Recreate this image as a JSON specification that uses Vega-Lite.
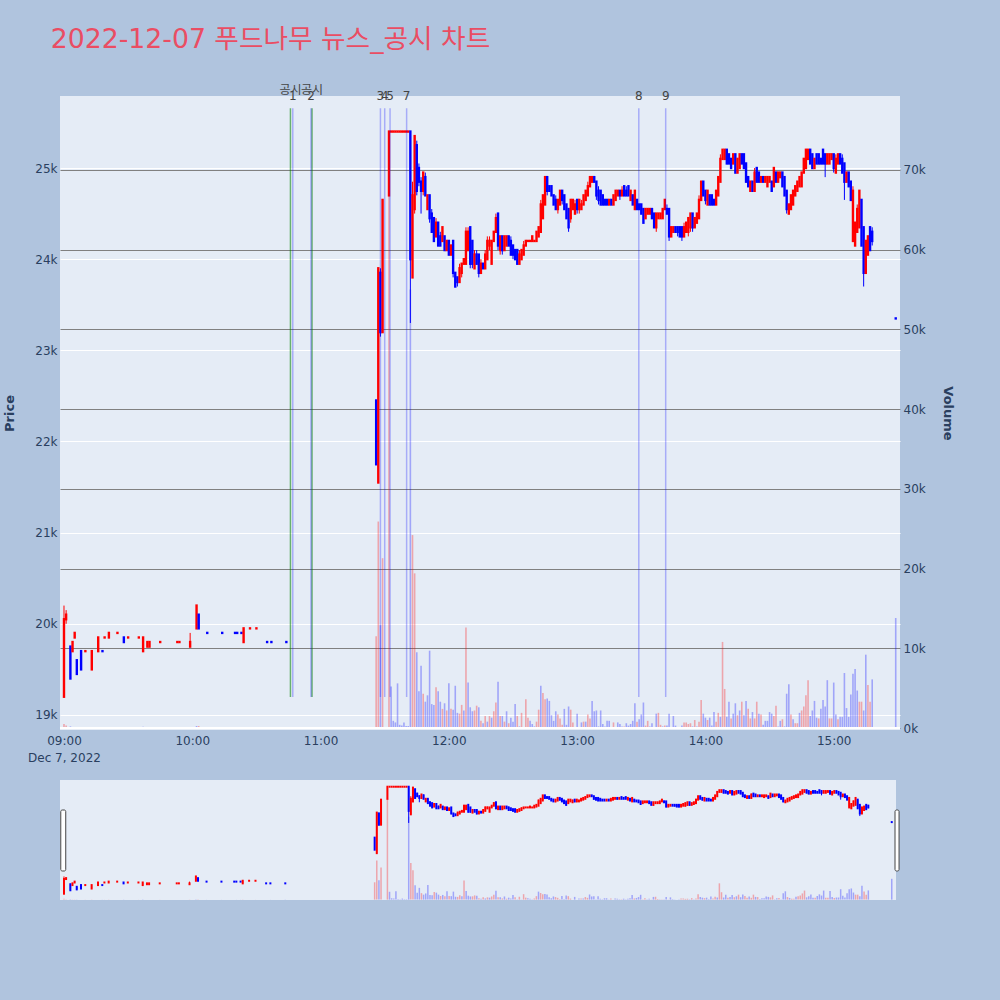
{
"$schema": "https://vega.github.io/schema/vega-lite/v6.json",
"background": "#B0C4DE",
"padding": {"left": 3, "top": 27, "right": 46, "bottom": 100},
"title": {"text": "2022-12-07 푸드나무 뉴스_공시 차트", "anchor": "start", "frame": "bounds", "dx": 47, "offset": 30, "font": "DejaVu Sans, Noto Sans CJK KR", "fontSize": 26.7, "fontWeight": "normal", "color": "#EA4D63"},
"config": {
  "view": {"fill": "#E5ECF6", "stroke": null},
  "font": "DejaVu Sans",
  "axis": {"labelFont": "DejaVu Sans", "labelFontSize": 12, "labelColor": "#2a3f5f", "titleFont": "DejaVu Sans", "titleColor": "#2a3f5f", "domain": false, "ticks": false}
},
"datasets": {
"k": [
{"t":"2022-12-07T09:00","o":19200,"h":20200,"l":19200,"c":20050,"v":500,"d":1,"w":1},
{"t":"2022-12-07T09:01","o":20050,"h":20150,"l":20000,"c":20100,"v":300,"d":1,"w":1},
{"t":"2022-12-07T09:03","o":19750,"h":19750,"l":19400,"c":19400,"v":200,"d":0,"w":0},
{"t":"2022-12-07T09:04","o":19700,"h":19800,"l":19700,"c":19800,"v":100,"d":1,"w":1},
{"t":"2022-12-07T09:05","o":19850,"h":19900,"l":19850,"c":19900,"v":100,"d":1,"w":1},
{"t":"2022-12-07T09:06","o":19600,"h":19600,"l":19450,"c":19450,"v":100,"d":0,"w":0},
{"t":"2022-12-07T09:08","o":19700,"h":19700,"l":19500,"c":19500,"v":100,"d":0,"w":0},
{"t":"2022-12-07T09:10","o":19700,"h":19700,"l":19700,"c":19700,"v":50,"d":1,"w":1},
{"t":"2022-12-07T09:13","o":19500,"h":19700,"l":19500,"c":19700,"v":100,"d":1,"w":1},
{"t":"2022-12-07T09:16","o":19700,"h":19850,"l":19700,"c":19850,"v":100,"d":1,"w":1},
{"t":"2022-12-07T09:18","o":19700,"h":19700,"l":19700,"c":19700,"v":50,"d":0,"w":0},
{"t":"2022-12-07T09:19","o":19850,"h":19850,"l":19850,"c":19850,"v":50,"d":1,"w":1},
{"t":"2022-12-07T09:21","o":19850,"h":19900,"l":19850,"c":19900,"v":100,"d":1,"w":1},
{"t":"2022-12-07T09:25","o":19900,"h":19900,"l":19900,"c":19900,"v":50,"d":1,"w":1},
{"t":"2022-12-07T09:28","o":19850,"h":19850,"l":19800,"c":19800,"v":100,"d":0,"w":0},
{"t":"2022-12-07T09:30","o":19850,"h":19850,"l":19850,"c":19850,"v":50,"d":1,"w":1},
{"t":"2022-12-07T09:35","o":19850,"h":19850,"l":19850,"c":19850,"v":50,"d":1,"w":1},
{"t":"2022-12-07T09:37","o":19700,"h":19850,"l":19700,"c":19850,"v":150,"d":1,"w":0},
{"t":"2022-12-07T09:39","o":19750,"h":19800,"l":19750,"c":19800,"v":100,"d":1,"w":1},
{"t":"2022-12-07T09:40","o":19750,"h":19800,"l":19750,"c":19800,"v":100,"d":1,"w":1},
{"t":"2022-12-07T09:45","o":19800,"h":19800,"l":19800,"c":19800,"v":50,"d":1,"w":1},
{"t":"2022-12-07T09:53","o":19800,"h":19800,"l":19800,"c":19800,"v":50,"d":1,"w":1},
{"t":"2022-12-07T09:54","o":19800,"h":19800,"l":19800,"c":19800,"v":50,"d":1,"w":1},
{"t":"2022-12-07T09:59","o":19750,"h":19900,"l":19750,"c":19800,"v":100,"d":1,"w":1},
{"t":"2022-12-07T10:02","o":19950,"h":20200,"l":19950,"c":20200,"v":250,"d":1,"w":0},
{"t":"2022-12-07T10:03","o":20100,"h":20100,"l":19950,"c":19950,"v":250,"d":0,"w":1},
{"t":"2022-12-07T10:07","o":19900,"h":19900,"l":19900,"c":19900,"v":50,"d":0,"w":0},
{"t":"2022-12-07T10:14","o":19900,"h":19900,"l":19900,"c":19900,"v":50,"d":0,"w":0},
{"t":"2022-12-07T10:20","o":19900,"h":19900,"l":19900,"c":19900,"v":50,"d":0,"w":0},
{"t":"2022-12-07T10:21","o":19900,"h":19900,"l":19900,"c":19900,"v":50,"d":0,"w":0},
{"t":"2022-12-07T10:23","o":19900,"h":19900,"l":19900,"c":19900,"v":50,"d":0,"w":0},
{"t":"2022-12-07T10:24","o":19800,"h":19950,"l":19800,"c":19950,"v":100,"d":1,"w":1},
{"t":"2022-12-07T10:27","o":19950,"h":19950,"l":19950,"c":19950,"v":50,"d":1,"w":1},
{"t":"2022-12-07T10:30","o":19950,"h":19950,"l":19950,"c":19950,"v":50,"d":1,"w":1},
{"t":"2022-12-07T10:35","o":19800,"h":19800,"l":19800,"c":19800,"v":50,"d":0,"w":0},
{"t":"2022-12-07T10:37","o":19800,"h":19800,"l":19800,"c":19800,"v":50,"d":0,"w":0},
{"t":"2022-12-07T10:44","o":19800,"h":19800,"l":19800,"c":19800,"v":100,"d":0,"w":0},
{"t":"2022-12-07T11:26","o":22450,"h":22450,"l":21750,"c":21750,"v":11500,"d":0,"w":1},
{"t":"2022-12-07T11:27","o":21550,"h":23900,"l":21550,"c":23900,"v":25900,"d":1,"w":1},
{"t":"2022-12-07T11:28","o":23850,"h":23900,"l":23150,"c":23200,"v":12900,"d":0,"w":0},
{"t":"2022-12-07T11:29","o":23200,"h":24650,"l":23200,"c":24650,"v":21300,"d":1,"w":1},
{"t":"2022-12-07T11:32","o":24700,"h":25400,"l":24700,"c":25400,"v":67000,"d":1,"w":1},
{"t":"2022-12-07T11:33","o":25400,"h":25400,"l":25400,"c":25400,"v":5200,"d":1,"w":0},
{"t":"2022-12-07T11:34","o":25400,"h":25400,"l":25400,"c":25400,"v":900,"d":1,"w":0},
{"t":"2022-12-07T11:35","o":25400,"h":25400,"l":25400,"c":25400,"v":700,"d":1,"w":0},
{"t":"2022-12-07T11:36","o":25400,"h":25400,"l":25400,"c":25400,"v":5600,"d":1,"w":0},
{"t":"2022-12-07T11:37","o":25400,"h":25400,"l":25400,"c":25400,"v":400,"d":1,"w":0},
{"t":"2022-12-07T11:38","o":25400,"h":25400,"l":25400,"c":25400,"v":300,"d":1,"w":0},
{"t":"2022-12-07T11:39","o":25400,"h":25400,"l":25400,"c":25400,"v":700,"d":1,"w":0},
{"t":"2022-12-07T11:40","o":25400,"h":25400,"l":25400,"c":25400,"v":250,"d":1,"w":0},
{"t":"2022-12-07T11:41","o":25400,"h":25400,"l":25400,"c":25400,"v":250,"d":1,"w":0},
{"t":"2022-12-07T11:42","o":25400,"h":25400,"l":23300,"c":24000,"v":55000,"d":0,"w":0},
{"t":"2022-12-07T11:43","o":23800,"h":24850,"l":23800,"c":24700,"v":24200,"d":1,"w":1},
{"t":"2022-12-07T11:44","o":24550,"h":25350,"l":24500,"c":25350,"v":19400,"d":1,"w":1},
{"t":"2022-12-07T11:45","o":25250,"h":25300,"l":24700,"c":24750,"v":9500,"d":0,"w":0},
{"t":"2022-12-07T11:46","o":25000,"h":25050,"l":24800,"c":24850,"v":4600,"d":0,"w":0},
{"t":"2022-12-07T11:47","o":24850,"h":24900,"l":24500,"c":24750,"v":7800,"d":0,"w":0},
{"t":"2022-12-07T11:48","o":24750,"h":24950,"l":24700,"c":24950,"v":4300,"d":1,"w":1},
{"t":"2022-12-07T11:49","o":24900,"h":24950,"l":24700,"c":24700,"v":3300,"d":0,"w":0},
{"t":"2022-12-07T11:50","o":24550,"h":24700,"l":24550,"c":24700,"v":4100,"d":1,"w":0},
{"t":"2022-12-07T11:51","o":24700,"h":24700,"l":24400,"c":24450,"v":9700,"d":0,"w":0},
{"t":"2022-12-07T11:52","o":24500,"h":24550,"l":24300,"c":24300,"v":3000,"d":0,"w":0},
{"t":"2022-12-07T11:53","o":24450,"h":24450,"l":24200,"c":24200,"v":2900,"d":0,"w":0},
{"t":"2022-12-07T11:54","o":24250,"h":24450,"l":24250,"c":24400,"v":5100,"d":1,"w":1},
{"t":"2022-12-07T11:55","o":24400,"h":24400,"l":24150,"c":24150,"v":4600,"d":0,"w":0},
{"t":"2022-12-07T11:56","o":24250,"h":24300,"l":24150,"c":24150,"v":3300,"d":0,"w":0},
{"t":"2022-12-07T11:57","o":24200,"h":24350,"l":24200,"c":24350,"v":2400,"d":1,"w":1},
{"t":"2022-12-07T11:58","o":24250,"h":24250,"l":24100,"c":24100,"v":3100,"d":0,"w":0},
{"t":"2022-12-07T11:59","o":24100,"h":24200,"l":24100,"c":24200,"v":2200,"d":1,"w":1},
{"t":"2022-12-07T12:00","o":24200,"h":24200,"l":24050,"c":24050,"v":5600,"d":0,"w":0},
{"t":"2022-12-07T12:01","o":24050,"h":24150,"l":24050,"c":24150,"v":2400,"d":1,"w":1},
{"t":"2022-12-07T12:02","o":24200,"h":24200,"l":23800,"c":23850,"v":2300,"d":0,"w":0},
{"t":"2022-12-07T12:03","o":23850,"h":23850,"l":23700,"c":23700,"v":5300,"d":0,"w":0},
{"t":"2022-12-07T12:04","o":23800,"h":23800,"l":23700,"c":23750,"v":1900,"d":0,"w":0},
{"t":"2022-12-07T12:05","o":23750,"h":23950,"l":23750,"c":23900,"v":1800,"d":1,"w":1},
{"t":"2022-12-07T12:06","o":23850,"h":23950,"l":23800,"c":23950,"v":2900,"d":1,"w":1},
{"t":"2022-12-07T12:07","o":23950,"h":24000,"l":23950,"c":24000,"v":2200,"d":1,"w":0},
{"t":"2022-12-07T12:08","o":23950,"h":24350,"l":23950,"c":24300,"v":12600,"d":1,"w":1},
{"t":"2022-12-07T12:09","o":24100,"h":24350,"l":24100,"c":24300,"v":5700,"d":1,"w":0},
{"t":"2022-12-07T12:10","o":24350,"h":24350,"l":23900,"c":23950,"v":2600,"d":0,"w":0},
{"t":"2022-12-07T12:11","o":24200,"h":24200,"l":23900,"c":23950,"v":2100,"d":0,"w":0},
{"t":"2022-12-07T12:12","o":23900,"h":24100,"l":23900,"c":24050,"v":2200,"d":1,"w":1},
{"t":"2022-12-07T12:13","o":24050,"h":24100,"l":23950,"c":23950,"v":2800,"d":0,"w":1},
{"t":"2022-12-07T12:14","o":24050,"h":24050,"l":23800,"c":23850,"v":2600,"d":0,"w":0},
{"t":"2022-12-07T12:15","o":23850,"h":24000,"l":23850,"c":23950,"v":900,"d":1,"w":1},
{"t":"2022-12-07T12:16","o":23950,"h":23950,"l":23900,"c":23900,"v":600,"d":0,"w":0},
{"t":"2022-12-07T12:17","o":23900,"h":24100,"l":23900,"c":24050,"v":1500,"d":1,"w":1},
{"t":"2022-12-07T12:18","o":24000,"h":24250,"l":24000,"c":24200,"v":800,"d":1,"w":0},
{"t":"2022-12-07T12:19","o":24150,"h":24250,"l":24100,"c":24200,"v":1500,"d":1,"w":1},
{"t":"2022-12-07T12:20","o":23950,"h":24200,"l":23950,"c":24200,"v":1300,"d":1,"w":0},
{"t":"2022-12-07T12:21","o":24200,"h":24300,"l":24200,"c":24300,"v":2100,"d":1,"w":1},
{"t":"2022-12-07T12:22","o":24300,"h":24500,"l":24300,"c":24450,"v":3200,"d":1,"w":1},
{"t":"2022-12-07T12:23","o":24500,"h":24500,"l":24100,"c":24150,"v":5800,"d":0,"w":0},
{"t":"2022-12-07T12:24","o":24100,"h":24250,"l":24050,"c":24250,"v":1500,"d":1,"w":1},
{"t":"2022-12-07T12:25","o":24250,"h":24250,"l":24050,"c":24100,"v":1500,"d":0,"w":0},
{"t":"2022-12-07T12:26","o":24100,"h":24250,"l":24100,"c":24250,"v":800,"d":1,"w":1},
{"t":"2022-12-07T12:27","o":24150,"h":24250,"l":24150,"c":24250,"v":2100,"d":1,"w":0},
{"t":"2022-12-07T12:28","o":24250,"h":24250,"l":24150,"c":24150,"v":600,"d":0,"w":1},
{"t":"2022-12-07T12:29","o":24200,"h":24250,"l":24050,"c":24050,"v":1300,"d":0,"w":0},
{"t":"2022-12-07T12:30","o":24150,"h":24150,"l":24000,"c":24050,"v":800,"d":0,"w":0},
{"t":"2022-12-07T12:31","o":24100,"h":24100,"l":24000,"c":24000,"v":3000,"d":0,"w":0},
{"t":"2022-12-07T12:32","o":24100,"h":24100,"l":23950,"c":23950,"v":1500,"d":0,"w":1},
{"t":"2022-12-07T12:33","o":23950,"h":24100,"l":23950,"c":24050,"v":200,"d":1,"w":0},
{"t":"2022-12-07T12:34","o":24000,"h":24100,"l":24000,"c":24100,"v":1900,"d":1,"w":1},
{"t":"2022-12-07T12:35","o":24050,"h":24200,"l":24050,"c":24150,"v":100,"d":1,"w":0},
{"t":"2022-12-07T12:36","o":24150,"h":24200,"l":24150,"c":24200,"v":3600,"d":1,"w":1},
{"t":"2022-12-07T12:37","o":24200,"h":24200,"l":24200,"c":24200,"v":1300,"d":1,"w":1},
{"t":"2022-12-07T12:38","o":24200,"h":24200,"l":24200,"c":24200,"v":900,"d":1,"w":0},
{"t":"2022-12-07T12:39","o":24200,"h":24250,"l":24200,"c":24250,"v":500,"d":1,"w":0},
{"t":"2022-12-07T12:40","o":24200,"h":24200,"l":24200,"c":24200,"v":200,"d":1,"w":0},
{"t":"2022-12-07T12:41","o":24200,"h":24300,"l":24200,"c":24300,"v":800,"d":1,"w":1},
{"t":"2022-12-07T12:42","o":24250,"h":24350,"l":24250,"c":24350,"v":2300,"d":1,"w":1},
{"t":"2022-12-07T12:43","o":24300,"h":24650,"l":24300,"c":24600,"v":5300,"d":1,"w":0},
{"t":"2022-12-07T12:44","o":24450,"h":24700,"l":24450,"c":24700,"v":4400,"d":1,"w":1},
{"t":"2022-12-07T12:45","o":24600,"h":24900,"l":24600,"c":24900,"v":3600,"d":1,"w":1},
{"t":"2022-12-07T12:46","o":24900,"h":24900,"l":24700,"c":24750,"v":3700,"d":0,"w":0},
{"t":"2022-12-07T12:47","o":24800,"h":24800,"l":24750,"c":24750,"v":3400,"d":0,"w":0},
{"t":"2022-12-07T12:48","o":24800,"h":24800,"l":24700,"c":24700,"v":1600,"d":0,"w":0},
{"t":"2022-12-07T12:49","o":24700,"h":24700,"l":24600,"c":24600,"v":900,"d":0,"w":0},
{"t":"2022-12-07T12:50","o":24650,"h":24700,"l":24550,"c":24550,"v":2100,"d":0,"w":0},
{"t":"2022-12-07T12:51","o":24550,"h":24650,"l":24500,"c":24650,"v":1700,"d":1,"w":1},
{"t":"2022-12-07T12:52","o":24600,"h":24750,"l":24600,"c":24750,"v":1200,"d":1,"w":1},
{"t":"2022-12-07T12:53","o":24750,"h":24750,"l":24600,"c":24650,"v":400,"d":0,"w":1},
{"t":"2022-12-07T12:54","o":24700,"h":24700,"l":24550,"c":24550,"v":2400,"d":0,"w":0},
{"t":"2022-12-07T12:55","o":24600,"h":24600,"l":24450,"c":24450,"v":400,"d":0,"w":0},
{"t":"2022-12-07T12:56","o":24550,"h":24550,"l":24300,"c":24350,"v":2700,"d":0,"w":0},
{"t":"2022-12-07T12:57","o":24450,"h":24650,"l":24400,"c":24650,"v":2300,"d":1,"w":1},
{"t":"2022-12-07T12:58","o":24550,"h":24650,"l":24550,"c":24650,"v":700,"d":1,"w":1},
{"t":"2022-12-07T12:59","o":24500,"h":24650,"l":24500,"c":24600,"v":100,"d":1,"w":0},
{"t":"2022-12-07T13:00","o":24650,"h":24650,"l":24500,"c":24550,"v":1800,"d":0,"w":0},
{"t":"2022-12-07T13:01","o":24550,"h":24650,"l":24500,"c":24650,"v":100,"d":1,"w":1},
{"t":"2022-12-07T13:02","o":24550,"h":24650,"l":24550,"c":24600,"v":700,"d":1,"w":0},
{"t":"2022-12-07T13:03","o":24600,"h":24700,"l":24600,"c":24700,"v":800,"d":1,"w":1},
{"t":"2022-12-07T13:04","o":24650,"h":24750,"l":24650,"c":24750,"v":800,"d":1,"w":0},
{"t":"2022-12-07T13:05","o":24700,"h":24850,"l":24700,"c":24800,"v":1700,"d":1,"w":1},
{"t":"2022-12-07T13:06","o":24800,"h":24900,"l":24800,"c":24900,"v":1200,"d":1,"w":1},
{"t":"2022-12-07T13:07","o":24850,"h":24900,"l":24850,"c":24900,"v":3400,"d":1,"w":0},
{"t":"2022-12-07T13:08","o":24900,"h":24900,"l":24850,"c":24850,"v":2100,"d":0,"w":0},
{"t":"2022-12-07T13:09","o":24850,"h":24850,"l":24650,"c":24700,"v":2200,"d":0,"w":0},
{"t":"2022-12-07T13:10","o":24750,"h":24800,"l":24600,"c":24650,"v":200,"d":0,"w":0},
{"t":"2022-12-07T13:11","o":24750,"h":24750,"l":24600,"c":24600,"v":2200,"d":0,"w":0},
{"t":"2022-12-07T13:12","o":24700,"h":24700,"l":24600,"c":24600,"v":500,"d":0,"w":0},
{"t":"2022-12-07T13:13","o":24650,"h":24650,"l":24600,"c":24600,"v":200,"d":0,"w":0},
{"t":"2022-12-07T13:14","o":24650,"h":24650,"l":24600,"c":24600,"v":900,"d":0,"w":0},
{"t":"2022-12-07T13:15","o":24600,"h":24650,"l":24600,"c":24650,"v":900,"d":1,"w":0},
{"t":"2022-12-07T13:16","o":24650,"h":24650,"l":24600,"c":24600,"v":100,"d":0,"w":0},
{"t":"2022-12-07T13:17","o":24600,"h":24700,"l":24600,"c":24700,"v":700,"d":1,"w":1},
{"t":"2022-12-07T13:18","o":24650,"h":24750,"l":24650,"c":24750,"v":100,"d":1,"w":0},
{"t":"2022-12-07T13:19","o":24700,"h":24750,"l":24700,"c":24750,"v":700,"d":1,"w":0},
{"t":"2022-12-07T13:20","o":24750,"h":24750,"l":24650,"c":24700,"v":500,"d":0,"w":0},
{"t":"2022-12-07T13:21","o":24700,"h":24800,"l":24700,"c":24750,"v":200,"d":1,"w":0},
{"t":"2022-12-07T13:22","o":24800,"h":24800,"l":24700,"c":24700,"v":200,"d":0,"w":1},
{"t":"2022-12-07T13:23","o":24750,"h":24800,"l":24700,"c":24700,"v":600,"d":0,"w":0},
{"t":"2022-12-07T13:24","o":24800,"h":24800,"l":24700,"c":24700,"v":300,"d":0,"w":0},
{"t":"2022-12-07T13:25","o":24650,"h":24750,"l":24650,"c":24750,"v":500,"d":1,"w":0},
{"t":"2022-12-07T13:26","o":24700,"h":24700,"l":24600,"c":24600,"v":900,"d":0,"w":0},
{"t":"2022-12-07T13:27","o":24550,"h":24750,"l":24550,"c":24750,"v":3100,"d":1,"w":0},
{"t":"2022-12-07T13:28","o":24650,"h":24650,"l":24550,"c":24550,"v":800,"d":0,"w":1},
{"t":"2022-12-07T13:29","o":24600,"h":24600,"l":24550,"c":24550,"v":1100,"d":0,"w":0},
{"t":"2022-12-07T13:30","o":24600,"h":24600,"l":24500,"c":24500,"v":1700,"d":0,"w":0},
{"t":"2022-12-07T13:31","o":24550,"h":24550,"l":24400,"c":24400,"v":3200,"d":0,"w":0},
{"t":"2022-12-07T13:32","o":24450,"h":24550,"l":24450,"c":24550,"v":300,"d":1,"w":1},
{"t":"2022-12-07T13:33","o":24500,"h":24550,"l":24500,"c":24550,"v":900,"d":1,"w":1},
{"t":"2022-12-07T13:34","o":24500,"h":24550,"l":24500,"c":24550,"v":200,"d":1,"w":0},
{"t":"2022-12-07T13:35","o":24550,"h":24550,"l":24450,"c":24450,"v":600,"d":0,"w":0},
{"t":"2022-12-07T13:36","o":24500,"h":24500,"l":24350,"c":24350,"v":100,"d":0,"w":1},
{"t":"2022-12-07T13:37","o":24350,"h":24500,"l":24300,"c":24500,"v":1800,"d":1,"w":0},
{"t":"2022-12-07T13:38","o":24450,"h":24500,"l":24450,"c":24500,"v":1900,"d":1,"w":1},
{"t":"2022-12-07T13:39","o":24450,"h":24500,"l":24450,"c":24500,"v":400,"d":1,"w":1},
{"t":"2022-12-07T13:40","o":24450,"h":24550,"l":24450,"c":24550,"v":200,"d":1,"w":0},
{"t":"2022-12-07T13:41","o":24550,"h":24650,"l":24550,"c":24650,"v":300,"d":1,"w":1},
{"t":"2022-12-07T13:42","o":24550,"h":24600,"l":24500,"c":24500,"v":300,"d":0,"w":0},
{"t":"2022-12-07T13:43","o":24550,"h":24550,"l":24200,"c":24250,"v":1800,"d":0,"w":0},
{"t":"2022-12-07T13:44","o":24250,"h":24350,"l":24250,"c":24350,"v":100,"d":1,"w":1},
{"t":"2022-12-07T13:45","o":24300,"h":24350,"l":24300,"c":24350,"v":1500,"d":1,"w":0},
{"t":"2022-12-07T13:46","o":24350,"h":24350,"l":24300,"c":24300,"v":300,"d":0,"w":0},
{"t":"2022-12-07T13:47","o":24350,"h":24350,"l":24250,"c":24300,"v":100,"d":0,"w":0},
{"t":"2022-12-07T13:48","o":24350,"h":24350,"l":24250,"c":24250,"v":50,"d":0,"w":1},
{"t":"2022-12-07T13:49","o":24350,"h":24350,"l":24200,"c":24250,"v":300,"d":0,"w":0},
{"t":"2022-12-07T13:50","o":24250,"h":24400,"l":24250,"c":24350,"v":700,"d":1,"w":1},
{"t":"2022-12-07T13:51","o":24300,"h":24400,"l":24300,"c":24400,"v":700,"d":1,"w":1},
{"t":"2022-12-07T13:52","o":24300,"h":24450,"l":24250,"c":24450,"v":500,"d":1,"w":1},
{"t":"2022-12-07T13:53","o":24350,"h":24500,"l":24300,"c":24500,"v":600,"d":1,"w":1},
{"t":"2022-12-07T13:54","o":24500,"h":24500,"l":24300,"c":24350,"v":200,"d":0,"w":0},
{"t":"2022-12-07T13:55","o":24350,"h":24450,"l":24350,"c":24450,"v":1000,"d":1,"w":1},
{"t":"2022-12-07T13:56","o":24400,"h":24500,"l":24400,"c":24500,"v":200,"d":1,"w":0},
{"t":"2022-12-07T13:57","o":24450,"h":24700,"l":24450,"c":24650,"v":800,"d":1,"w":1},
{"t":"2022-12-07T13:58","o":24650,"h":24850,"l":24650,"c":24850,"v":3500,"d":1,"w":1},
{"t":"2022-12-07T13:59","o":24850,"h":24850,"l":24700,"c":24700,"v":1800,"d":0,"w":0},
{"t":"2022-12-07T14:00","o":24750,"h":24750,"l":24600,"c":24650,"v":1300,"d":0,"w":0},
{"t":"2022-12-07T14:01","o":24600,"h":24750,"l":24600,"c":24750,"v":1000,"d":1,"w":1},
{"t":"2022-12-07T14:02","o":24700,"h":24700,"l":24600,"c":24600,"v":1300,"d":0,"w":0},
{"t":"2022-12-07T14:03","o":24700,"h":24700,"l":24600,"c":24600,"v":300,"d":0,"w":0},
{"t":"2022-12-07T14:04","o":24650,"h":24650,"l":24600,"c":24600,"v":2000,"d":0,"w":0},
{"t":"2022-12-07T14:05","o":24600,"h":24750,"l":24600,"c":24750,"v":800,"d":1,"w":1},
{"t":"2022-12-07T14:06","o":24700,"h":24900,"l":24700,"c":24900,"v":1900,"d":1,"w":1},
{"t":"2022-12-07T14:07","o":24850,"h":25150,"l":24850,"c":25100,"v":1400,"d":1,"w":0},
{"t":"2022-12-07T14:08","o":25100,"h":25200,"l":25100,"c":25200,"v":10800,"d":1,"w":1},
{"t":"2022-12-07T14:09","o":25100,"h":25200,"l":25100,"c":25200,"v":4900,"d":1,"w":1},
{"t":"2022-12-07T14:10","o":25200,"h":25200,"l":25050,"c":25050,"v":1400,"d":0,"w":0},
{"t":"2022-12-07T14:11","o":25150,"h":25150,"l":25050,"c":25050,"v":3300,"d":0,"w":0},
{"t":"2022-12-07T14:12","o":25100,"h":25100,"l":25000,"c":25000,"v":1200,"d":0,"w":1},
{"t":"2022-12-07T14:13","o":25050,"h":25150,"l":25050,"c":25150,"v":1800,"d":1,"w":0},
{"t":"2022-12-07T14:14","o":25150,"h":25150,"l":24950,"c":24950,"v":3100,"d":0,"w":0},
{"t":"2022-12-07T14:15","o":24950,"h":25100,"l":24950,"c":25100,"v":1600,"d":1,"w":1},
{"t":"2022-12-07T14:16","o":25000,"h":25150,"l":25000,"c":25150,"v":2200,"d":1,"w":0},
{"t":"2022-12-07T14:17","o":25150,"h":25150,"l":25050,"c":25050,"v":3300,"d":0,"w":1},
{"t":"2022-12-07T14:18","o":25150,"h":25150,"l":25000,"c":25000,"v":1600,"d":0,"w":0},
{"t":"2022-12-07T14:19","o":25050,"h":25050,"l":24850,"c":24850,"v":3400,"d":0,"w":0},
{"t":"2022-12-07T14:20","o":24900,"h":24900,"l":24800,"c":24800,"v":2400,"d":0,"w":1},
{"t":"2022-12-07T14:21","o":24750,"h":24850,"l":24750,"c":24850,"v":1200,"d":1,"w":1},
{"t":"2022-12-07T14:22","o":24850,"h":24850,"l":24750,"c":24750,"v":2000,"d":0,"w":0},
{"t":"2022-12-07T14:23","o":24750,"h":25000,"l":24750,"c":24950,"v":1200,"d":1,"w":1},
{"t":"2022-12-07T14:24","o":25000,"h":25000,"l":24850,"c":24850,"v":3300,"d":0,"w":1},
{"t":"2022-12-07T14:25","o":24950,"h":24950,"l":24850,"c":24850,"v":1800,"d":0,"w":0},
{"t":"2022-12-07T14:26","o":24850,"h":24900,"l":24850,"c":24900,"v":1700,"d":1,"w":1},
{"t":"2022-12-07T14:27","o":24900,"h":24900,"l":24850,"c":24850,"v":400,"d":0,"w":0},
{"t":"2022-12-07T14:28","o":24850,"h":24900,"l":24850,"c":24900,"v":900,"d":1,"w":0},
{"t":"2022-12-07T14:29","o":24800,"h":24900,"l":24800,"c":24900,"v":900,"d":1,"w":0},
{"t":"2022-12-07T14:30","o":24850,"h":24900,"l":24850,"c":24900,"v":2000,"d":1,"w":0},
{"t":"2022-12-07T14:31","o":24850,"h":24850,"l":24750,"c":24750,"v":1800,"d":0,"w":0},
{"t":"2022-12-07T14:32","o":24800,"h":25000,"l":24800,"c":25000,"v":1500,"d":1,"w":1},
{"t":"2022-12-07T14:33","o":24950,"h":24950,"l":24850,"c":24850,"v":2800,"d":0,"w":1},
{"t":"2022-12-07T14:34","o":24850,"h":24950,"l":24850,"c":24950,"v":200,"d":1,"w":0},
{"t":"2022-12-07T14:35","o":24900,"h":24950,"l":24900,"c":24950,"v":900,"d":1,"w":0},
{"t":"2022-12-07T14:36","o":24950,"h":24950,"l":24800,"c":24800,"v":1100,"d":0,"w":1},
{"t":"2022-12-07T14:37","o":24900,"h":24900,"l":24700,"c":24700,"v":200,"d":0,"w":0},
{"t":"2022-12-07T14:38","o":24750,"h":24750,"l":24500,"c":24550,"v":4300,"d":0,"w":0},
{"t":"2022-12-07T14:39","o":24500,"h":24600,"l":24500,"c":24600,"v":5500,"d":1,"w":0},
{"t":"2022-12-07T14:40","o":24550,"h":24700,"l":24550,"c":24700,"v":1700,"d":1,"w":1},
{"t":"2022-12-07T14:41","o":24600,"h":24750,"l":24600,"c":24750,"v":1100,"d":1,"w":0},
{"t":"2022-12-07T14:42","o":24700,"h":24800,"l":24700,"c":24800,"v":600,"d":1,"w":1},
{"t":"2022-12-07T14:43","o":24750,"h":24850,"l":24750,"c":24850,"v":600,"d":1,"w":1},
{"t":"2022-12-07T14:44","o":24800,"h":24900,"l":24800,"c":24900,"v":1900,"d":1,"w":0},
{"t":"2022-12-07T14:45","o":24800,"h":24950,"l":24800,"c":24950,"v":2200,"d":1,"w":1},
{"t":"2022-12-07T14:46","o":24950,"h":25100,"l":24950,"c":25100,"v":2700,"d":1,"w":1},
{"t":"2022-12-07T14:47","o":25000,"h":25200,"l":25000,"c":25200,"v":4100,"d":1,"w":1},
{"t":"2022-12-07T14:48","o":25100,"h":25200,"l":25100,"c":25200,"v":6000,"d":1,"w":1},
{"t":"2022-12-07T14:49","o":25200,"h":25200,"l":25050,"c":25050,"v":1500,"d":0,"w":0},
{"t":"2022-12-07T14:50","o":25150,"h":25150,"l":25000,"c":25000,"v":2200,"d":0,"w":0},
{"t":"2022-12-07T14:51","o":25000,"h":25100,"l":25000,"c":25100,"v":3400,"d":1,"w":0},
{"t":"2022-12-07T14:52","o":25150,"h":25150,"l":25050,"c":25050,"v":1300,"d":0,"w":0},
{"t":"2022-12-07T14:53","o":25150,"h":25150,"l":25050,"c":25050,"v":1200,"d":0,"w":1},
{"t":"2022-12-07T14:54","o":25100,"h":25100,"l":25050,"c":25050,"v":2400,"d":0,"w":0},
{"t":"2022-12-07T14:55","o":25200,"h":25200,"l":25050,"c":25050,"v":3500,"d":0,"w":0},
{"t":"2022-12-07T14:56","o":25150,"h":25150,"l":24900,"c":25050,"v":2700,"d":0,"w":0},
{"t":"2022-12-07T14:57","o":25050,"h":25150,"l":25050,"c":25150,"v":6000,"d":1,"w":0},
{"t":"2022-12-07T14:58","o":25050,"h":25150,"l":25050,"c":25150,"v":1200,"d":1,"w":1},
{"t":"2022-12-07T14:59","o":25100,"h":25150,"l":25100,"c":25150,"v":1200,"d":1,"w":1},
{"t":"2022-12-07T15:00","o":25150,"h":25150,"l":24950,"c":25000,"v":5700,"d":0,"w":0},
{"t":"2022-12-07T15:01","o":24950,"h":25150,"l":24950,"c":25100,"v":1700,"d":1,"w":0},
{"t":"2022-12-07T15:02","o":25050,"h":25150,"l":25050,"c":25150,"v":1100,"d":1,"w":1},
{"t":"2022-12-07T15:03","o":25150,"h":25150,"l":25050,"c":25050,"v":1400,"d":0,"w":0},
{"t":"2022-12-07T15:04","o":25100,"h":25150,"l":24950,"c":24950,"v":1400,"d":0,"w":0},
{"t":"2022-12-07T15:05","o":25050,"h":25050,"l":24650,"c":24850,"v":6900,"d":0,"w":0},
{"t":"2022-12-07T15:06","o":24850,"h":24950,"l":24850,"c":24950,"v":2500,"d":1,"w":0},
{"t":"2022-12-07T15:07","o":24950,"h":24950,"l":24800,"c":24800,"v":1400,"d":0,"w":0},
{"t":"2022-12-07T15:08","o":24850,"h":24850,"l":24650,"c":24650,"v":4200,"d":0,"w":0},
{"t":"2022-12-07T15:09","o":24200,"h":24800,"l":24200,"c":24750,"v":6800,"d":1,"w":0},
{"t":"2022-12-07T15:10","o":24150,"h":24400,"l":24150,"c":24400,"v":7400,"d":1,"w":0},
{"t":"2022-12-07T15:11","o":24300,"h":24600,"l":24300,"c":24550,"v":4700,"d":1,"w":0},
{"t":"2022-12-07T15:12","o":24350,"h":24750,"l":24350,"c":24750,"v":3300,"d":1,"w":1},
{"t":"2022-12-07T15:13","o":24650,"h":24650,"l":24150,"c":24150,"v":3300,"d":0,"w":1},
{"t":"2022-12-07T15:14","o":24350,"h":24350,"l":23700,"c":23850,"v":2200,"d":0,"w":0},
{"t":"2022-12-07T15:15","o":23850,"h":24200,"l":23850,"c":24200,"v":9200,"d":1,"w":0},
{"t":"2022-12-07T15:16","o":24050,"h":24250,"l":24050,"c":24250,"v":5400,"d":1,"w":1},
{"t":"2022-12-07T15:17","o":24350,"h":24350,"l":24100,"c":24100,"v":3300,"d":0,"w":1},
{"t":"2022-12-07T15:18","o":24300,"h":24350,"l":24150,"c":24200,"v":6100,"d":0,"w":0},
{"t":"2022-12-07T15:29","o":23350,"h":23350,"l":23350,"c":23350,"v":13800,"d":0,"w":0}
],
"ev": [
{"t":"2022-12-07T10:47:00","n":"1"},
{"t":"2022-12-07T10:55:30","n":"2"},
{"t":"2022-12-07T11:28:00","n":"3"},
{"t":"2022-12-07T11:30:00","n":"4"},
{"t":"2022-12-07T11:32:30","n":"5"},
{"t":"2022-12-07T11:40:15","n":"7"},
{"t":"2022-12-07T13:28:50","n":"8"},
{"t":"2022-12-07T13:41:25","n":"9"}
],
"gs": [
{"t":"2022-12-07T10:45:55","n":"공시"},
{"t":"2022-12-07T10:56:00","n":"공시"}
]
},
"spacing": 17,
"resolve": {"scale": {"x": "independent", "y": "independent"}},
"vconcat": [
{
"width": 840, "height": 634,
"layer": [
 {"data": {"name": "k"},
  "layer": [
   {"mark": {"type": "bar", "width": 1.6, "opacity": 0.3},
    "encoding": {
     "x": {"field": "t", "type": "temporal", "scale": {"domain": [{"year":2022,"month":12,"date":7,"hours":8,"minutes":58,"seconds":8},{"year":2022,"month":12,"date":7,"hours":15,"minutes":31}], "padding": 0}, "axis": {"title": null, "values": [{"year":2022,"month":12,"date":7,"hours":9},{"year":2022,"month":12,"date":7,"hours":10},{"year":2022,"month":12,"date":7,"hours":11},{"year":2022,"month":12,"date":7,"hours":12},{"year":2022,"month":12,"date":7,"hours":13},{"year":2022,"month":12,"date":7,"hours":14},{"year":2022,"month":12,"date":7,"hours":15}], "labelExpr": "hours(datum.value) == 9 ? ['09:00', 'Dec 7, 2022'] : timeFormat(datum.value, '%H:%M')", "grid": false, "labelPadding": 5, "labelLineHeight": 17, "labelOverlap": false, "labelFlush": false}},
     "y": {"field": "v", "type": "quantitative", "scale": {"domain": [-250, 79280], "nice": false, "zero": false}, "axis": {"orient": "right", "title": "Volume", "titleFontWeight": "bold", "titleFontSize": 13, "values": [0,10000,20000,30000,40000,50000,60000,70000], "format": "~s", "grid": true, "gridColor": "#808080", "gridWidth": 1, "labelPadding": 3, "titlePadding": 15}},
     "color": {"field": "w", "type": "nominal", "scale": {"domain": [0,1], "range": ["#0000FF","#FF0000"]}, "legend": null}
    }},
   {"mark": {"type": "rule", "color": "white", "strokeWidth": 2},
    "encoding": {"y": {"datum": 0, "type": "quantitative", "scale": {"domain": [-250, 79280], "nice": false, "zero": false}, "axis": {"orient": "right", "title": "Volume", "titleFontWeight": "bold", "titleFontSize": 13, "values": [0,10000,20000,30000,40000,50000,60000,70000], "format": "~s", "grid": true, "gridColor": "#808080", "gridWidth": 1, "labelPadding": 3, "titlePadding": 15}}}}
  ]},
 {"layer": [
   {"data": {"name": "k"}, "mark": {"type": "rule", "strokeWidth": 1},
    "encoding": {
     "x": {"field": "t", "type": "temporal", "scale": {"domain": [{"year":2022,"month":12,"date":7,"hours":8,"minutes":58,"seconds":8},{"year":2022,"month":12,"date":7,"hours":15,"minutes":31}], "padding": 0}, "axis": {"title": null, "values": [{"year":2022,"month":12,"date":7,"hours":9},{"year":2022,"month":12,"date":7,"hours":10},{"year":2022,"month":12,"date":7,"hours":11},{"year":2022,"month":12,"date":7,"hours":12},{"year":2022,"month":12,"date":7,"hours":13},{"year":2022,"month":12,"date":7,"hours":14},{"year":2022,"month":12,"date":7,"hours":15}], "labelExpr": "hours(datum.value) == 9 ? ['09:00', 'Dec 7, 2022'] : timeFormat(datum.value, '%H:%M')", "grid": false, "labelPadding": 5, "labelLineHeight": 17, "labelOverlap": false, "labelFlush": false}},
     "y": {"field": "l", "type": "quantitative", "scale": {"domain": [18835, 25790], "nice": false, "zero": false}, "axis": {"orient": "left", "title": "Price", "titleFontWeight": "bold", "titleFontSize": 13, "values": [19000,20000,21000,22000,23000,24000,25000], "format": "~s", "grid": true, "gridColor": "#FFFFFF", "gridWidth": 1, "labelPadding": 3, "titlePadding": 18}},
     "y2": {"field": "h"},
     "color": {"field": "d", "type": "nominal", "scale": {"domain": [0,1], "range": ["#0000FF","#FF0000"]}, "legend": null}
    }},
   {"data": {"name": "k"}, "mark": {"type": "rule", "strokeWidth": 2.4, "strokeCap": "square"},
    "encoding": {
     "x": {"field": "t", "type": "temporal", "scale": {"domain": [{"year":2022,"month":12,"date":7,"hours":8,"minutes":58,"seconds":8},{"year":2022,"month":12,"date":7,"hours":15,"minutes":31}], "padding": 0}, "axis": {"title": null, "values": [{"year":2022,"month":12,"date":7,"hours":9},{"year":2022,"month":12,"date":7,"hours":10},{"year":2022,"month":12,"date":7,"hours":11},{"year":2022,"month":12,"date":7,"hours":12},{"year":2022,"month":12,"date":7,"hours":13},{"year":2022,"month":12,"date":7,"hours":14},{"year":2022,"month":12,"date":7,"hours":15}], "labelExpr": "hours(datum.value) == 9 ? ['09:00', 'Dec 7, 2022'] : timeFormat(datum.value, '%H:%M')", "grid": false, "labelPadding": 5, "labelLineHeight": 17, "labelOverlap": false, "labelFlush": false}},
     "y": {"field": "o", "type": "quantitative", "scale": {"domain": [18835, 25790], "nice": false, "zero": false}, "axis": {"orient": "left", "title": "Price", "titleFontWeight": "bold", "titleFontSize": 13, "values": [19000,20000,21000,22000,23000,24000,25000], "format": "~s", "grid": true, "gridColor": "#FFFFFF", "gridWidth": 1, "labelPadding": 3, "titlePadding": 18}},
     "y2": {"field": "c"},
     "color": {"field": "d", "type": "nominal", "scale": {"domain": [0,1], "range": ["#0000FF","#FF0000"]}, "legend": null}
    }},
   {"data": {"name": "gs"}, "mark": {"type": "rule", "color": "#008000", "strokeOpacity": 0.55, "strokeWidth": 1.5},
    "encoding": {
     "x": {"field": "t", "type": "temporal", "scale": {"domain": [{"year":2022,"month":12,"date":7,"hours":8,"minutes":58,"seconds":8},{"year":2022,"month":12,"date":7,"hours":15,"minutes":31}], "padding": 0}, "axis": {"title": null, "values": [{"year":2022,"month":12,"date":7,"hours":9},{"year":2022,"month":12,"date":7,"hours":10},{"year":2022,"month":12,"date":7,"hours":11},{"year":2022,"month":12,"date":7,"hours":12},{"year":2022,"month":12,"date":7,"hours":13},{"year":2022,"month":12,"date":7,"hours":14},{"year":2022,"month":12,"date":7,"hours":15}], "labelExpr": "hours(datum.value) == 9 ? ['09:00', 'Dec 7, 2022'] : timeFormat(datum.value, '%H:%M')", "grid": false, "labelPadding": 5, "labelLineHeight": 17, "labelOverlap": false, "labelFlush": false}},
     "y": {"datum": 19197, "type": "quantitative", "scale": {"domain": [18835, 25790], "nice": false, "zero": false}, "axis": {"orient": "left", "title": "Price", "titleFontWeight": "bold", "titleFontSize": 13, "values": [19000,20000,21000,22000,23000,24000,25000], "format": "~s", "grid": true, "gridColor": "#FFFFFF", "gridWidth": 1, "labelPadding": 3, "titlePadding": 18}},
     "y2": {"datum": 25655}
    }},
   {"data": {"name": "ev"}, "mark": {"type": "rule", "color": "#0000FF", "strokeOpacity": 0.27, "strokeWidth": 1.5},
    "encoding": {
     "x": {"field": "t", "type": "temporal", "scale": {"domain": [{"year":2022,"month":12,"date":7,"hours":8,"minutes":58,"seconds":8},{"year":2022,"month":12,"date":7,"hours":15,"minutes":31}], "padding": 0}, "axis": {"title": null, "values": [{"year":2022,"month":12,"date":7,"hours":9},{"year":2022,"month":12,"date":7,"hours":10},{"year":2022,"month":12,"date":7,"hours":11},{"year":2022,"month":12,"date":7,"hours":12},{"year":2022,"month":12,"date":7,"hours":13},{"year":2022,"month":12,"date":7,"hours":14},{"year":2022,"month":12,"date":7,"hours":15}], "labelExpr": "hours(datum.value) == 9 ? ['09:00', 'Dec 7, 2022'] : timeFormat(datum.value, '%H:%M')", "grid": false, "labelPadding": 5, "labelLineHeight": 17, "labelOverlap": false, "labelFlush": false}},
     "y": {"datum": 19197, "type": "quantitative", "scale": {"domain": [18835, 25790], "nice": false, "zero": false}, "axis": {"orient": "left", "title": "Price", "titleFontWeight": "bold", "titleFontSize": 13, "values": [19000,20000,21000,22000,23000,24000,25000], "format": "~s", "grid": true, "gridColor": "#FFFFFF", "gridWidth": 1, "labelPadding": 3, "titlePadding": 18}},
     "y2": {"datum": 25655}
    }},
   {"data": {"name": "ev"}, "mark": {"type": "text", "baseline": "middle", "align": "center", "fontSize": 12, "color": "#444444", "font": "DejaVu Sans"},
    "encoding": {
     "x": {"field": "t", "type": "temporal", "scale": {"domain": [{"year":2022,"month":12,"date":7,"hours":8,"minutes":58,"seconds":8},{"year":2022,"month":12,"date":7,"hours":15,"minutes":31}], "padding": 0}, "axis": {"title": null, "values": [{"year":2022,"month":12,"date":7,"hours":9},{"year":2022,"month":12,"date":7,"hours":10},{"year":2022,"month":12,"date":7,"hours":11},{"year":2022,"month":12,"date":7,"hours":12},{"year":2022,"month":12,"date":7,"hours":13},{"year":2022,"month":12,"date":7,"hours":14},{"year":2022,"month":12,"date":7,"hours":15}], "labelExpr": "hours(datum.value) == 9 ? ['09:00', 'Dec 7, 2022'] : timeFormat(datum.value, '%H:%M')", "grid": false, "labelPadding": 5, "labelLineHeight": 17, "labelOverlap": false, "labelFlush": false}},
     "y": {"datum": 25790, "type": "quantitative", "scale": {"domain": [18835, 25790], "nice": false, "zero": false}, "axis": {"orient": "left", "title": "Price", "titleFontWeight": "bold", "titleFontSize": 13, "values": [19000,20000,21000,22000,23000,24000,25000], "format": "~s", "grid": true, "gridColor": "#FFFFFF", "gridWidth": 1, "labelPadding": 3, "titlePadding": 18}},
     "text": {"field": "n"}
    }},
   {"data": {"name": "gs"}, "mark": {"type": "text", "baseline": "middle", "align": "center", "fontSize": 12, "color": "#444444", "font": "Noto Sans CJK KR"},
    "encoding": {
     "x": {"field": "t", "type": "temporal", "scale": {"domain": [{"year":2022,"month":12,"date":7,"hours":8,"minutes":58,"seconds":8},{"year":2022,"month":12,"date":7,"hours":15,"minutes":31}], "padding": 0}, "axis": {"title": null, "values": [{"year":2022,"month":12,"date":7,"hours":9},{"year":2022,"month":12,"date":7,"hours":10},{"year":2022,"month":12,"date":7,"hours":11},{"year":2022,"month":12,"date":7,"hours":12},{"year":2022,"month":12,"date":7,"hours":13},{"year":2022,"month":12,"date":7,"hours":14},{"year":2022,"month":12,"date":7,"hours":15}], "labelExpr": "hours(datum.value) == 9 ? ['09:00', 'Dec 7, 2022'] : timeFormat(datum.value, '%H:%M')", "grid": false, "labelPadding": 5, "labelLineHeight": 17, "labelOverlap": false, "labelFlush": false}},
     "y": {"datum": 25855, "type": "quantitative", "scale": {"domain": [18835, 25790], "nice": false, "zero": false}, "axis": {"orient": "left", "title": "Price", "titleFontWeight": "bold", "titleFontSize": 13, "values": [19000,20000,21000,22000,23000,24000,25000], "format": "~s", "grid": true, "gridColor": "#FFFFFF", "gridWidth": 1, "labelPadding": 3, "titlePadding": 18}},
     "text": {"field": "n"}
    }}
 ]}
],
"resolve": {"scale": {"y": "independent"}}
},
{
"width": 836, "height": 120,
"layer": [
 {"data": {"name": "k"}, "mark": {"type": "bar", "width": 1.5, "opacity": 0.3},
  "encoding": {
   "x": {"field": "t", "type": "temporal", "scale": {"domain": [{"year":2022,"month":12,"date":7,"hours":8,"minutes":58,"seconds":8},{"year":2022,"month":12,"date":7,"hours":15,"minutes":31}], "padding": 0}, "axis": null},
   "y": {"field": "v", "type": "quantitative", "scale": {"domain": [-250, 79280], "nice": false, "zero": false}, "axis": null},
   "color": {"field": "w", "type": "nominal", "scale": {"domain": [0,1], "range": ["#0000FF","#FF0000"]}, "legend": null}
  }},
 {"layer": [
   {"data": {"name": "k"}, "mark": {"type": "rule", "strokeWidth": 1},
    "encoding": {
     "x": {"field": "t", "type": "temporal", "scale": {"domain": [{"year":2022,"month":12,"date":7,"hours":8,"minutes":58,"seconds":8},{"year":2022,"month":12,"date":7,"hours":15,"minutes":31}], "padding": 0}, "axis": null},
     "y": {"field": "l", "type": "quantitative", "scale": {"domain": [18835, 25790], "nice": false, "zero": false}, "axis": null},
     "y2": {"field": "h"},
     "color": {"field": "d", "type": "nominal", "scale": {"domain": [0,1], "range": ["#0000FF","#FF0000"]}, "legend": null}
    }},
   {"data": {"name": "k"}, "mark": {"type": "rule", "strokeWidth": 2, "strokeCap": "square"},
    "encoding": {
     "x": {"field": "t", "type": "temporal", "scale": {"domain": [{"year":2022,"month":12,"date":7,"hours":8,"minutes":58,"seconds":8},{"year":2022,"month":12,"date":7,"hours":15,"minutes":31}], "padding": 0}, "axis": null},
     "y": {"field": "o", "type": "quantitative", "scale": {"domain": [18835, 25790], "nice": false, "zero": false}, "axis": null},
     "y2": {"field": "c"},
     "color": {"field": "d", "type": "nominal", "scale": {"domain": [0,1], "range": ["#0000FF","#FF0000"]}, "legend": null}
    }},
   {"data": {"values": [{}]}, "mark": {"type": "rect", "fill": "#FFFFFF", "stroke": "#444444", "strokeWidth": 1, "cornerRadius": 1.5},
    "encoding": {
     "x": {"datum": {"year":2022,"month":12,"date":7,"hours":8,"minutes":58,"seconds":30}, "type": "temporal", "scale": {"domain": [{"year":2022,"month":12,"date":7,"hours":8,"minutes":58,"seconds":8},{"year":2022,"month":12,"date":7,"hours":15,"minutes":31}], "padding": 0}, "axis": null},
     "x2": {"datum": {"year":2022,"month":12,"date":7,"hours":9,"minutes":0,"seconds":50}},
     "y": {"datum": 20516, "type": "quantitative", "scale": {"domain": [18835, 25790], "nice": false, "zero": false}, "axis": null},
     "y2": {"datum": 24051}
    }},
   {"data": {"values": [{}]}, "mark": {"type": "rect", "fill": "#FFFFFF", "stroke": "#444444", "strokeWidth": 1, "cornerRadius": 1.5},
    "encoding": {
     "x": {"datum": {"year":2022,"month":12,"date":7,"hours":15,"minutes":30,"seconds":32}, "type": "temporal", "scale": {"domain": [{"year":2022,"month":12,"date":7,"hours":8,"minutes":58,"seconds":8},{"year":2022,"month":12,"date":7,"hours":15,"minutes":31}], "padding": 0}, "axis": null},
     "x2": {"datum": {"year":2022,"month":12,"date":7,"hours":15,"minutes":32,"seconds":26}},
     "y": {"datum": 20516, "type": "quantitative", "scale": {"domain": [18835, 25790], "nice": false, "zero": false}, "axis": null},
     "y2": {"datum": 24051}
    }}
 ]}
],
"resolve": {"scale": {"y": "independent"}}
}
]
}
